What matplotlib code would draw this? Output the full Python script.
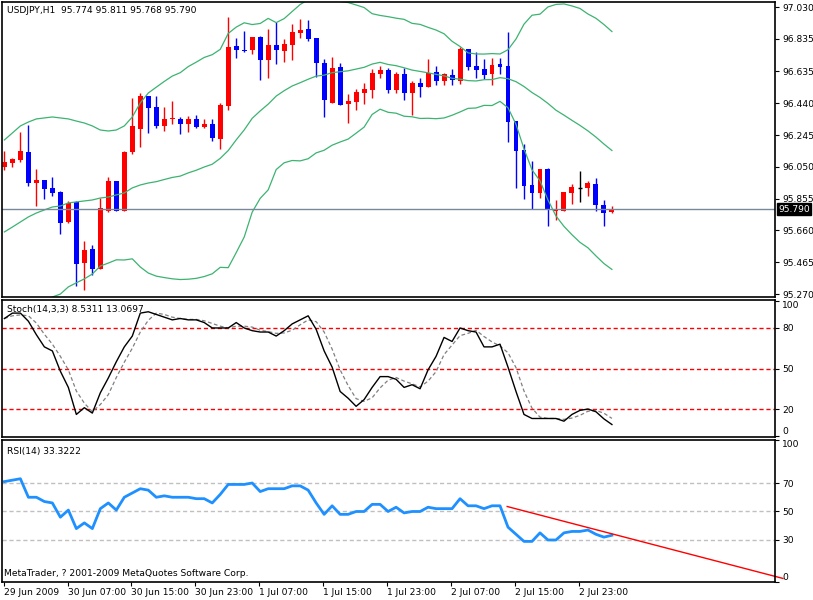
import numpy as np
import pandas as pd
import matplotlib
matplotlib.use("Agg")
import matplotlib.pyplot as plt
from matplotlib.transforms import blended_transform_factory as btf

opens = [96.049,96.074,96.092,96.141,95.951,95.970,95.921,95.896,95.712,95.835,
95.461,95.547,95.424,95.780,95.964,95.780,96.141,96.282,96.485,96.417,
96.301,96.344,96.344,96.313,96.344,96.295,96.313,96.221,96.423,96.791,
96.767,96.767,96.846,96.705,96.797,96.760,96.797,96.871,96.895,96.840,
96.687,96.442,96.662,96.435,96.448,96.503,96.521,96.619,96.644,96.521,
96.619,96.503,96.564,96.540,96.632,96.576,96.613,96.576,96.773,96.668,
96.650,96.619,96.681,96.668,96.331,96.154,95.939,95.890,96.037,95.780,
95.780,95.890,95.921,95.921,95.945,95.816,95.774]
closes = [96.080,96.098,96.147,95.951,95.970,95.914,95.890,95.706,95.829,95.455,
95.541,95.424,95.798,95.964,95.780,96.141,96.301,96.485,96.411,96.301,
96.344,96.350,96.313,96.344,96.295,96.313,96.227,96.429,96.785,96.767,
96.760,96.846,96.705,96.797,96.767,96.803,96.877,96.889,96.834,96.687,
96.460,96.656,96.429,96.454,96.509,96.527,96.626,96.644,96.521,96.619,
96.503,96.564,96.540,96.626,96.576,96.619,96.583,96.773,96.662,96.644,
96.613,96.675,96.662,96.325,96.147,95.933,95.890,96.037,95.786,95.792,
95.896,95.927,95.921,95.951,95.816,95.767,95.790]
highs = [96.147,96.104,96.264,96.307,96.037,95.970,95.988,95.902,95.841,95.841,
95.596,95.571,95.859,95.988,95.964,96.147,96.472,96.503,96.485,96.485,
96.417,96.454,96.356,96.362,96.368,96.344,96.344,96.442,96.969,96.840,
96.883,96.846,96.852,96.895,96.938,96.834,96.926,96.957,96.950,96.840,
96.711,96.724,96.687,96.497,96.527,96.564,96.650,96.668,96.656,96.632,
96.656,96.576,96.595,96.711,96.668,96.626,96.650,96.785,96.773,96.754,
96.711,96.717,96.717,96.877,96.331,96.190,96.086,96.037,96.043,95.847,
95.896,95.945,96.025,95.964,95.982,95.847,95.811]
lows = [96.031,96.049,96.080,95.933,95.810,95.853,95.872,95.639,95.706,95.320,
95.295,95.387,95.424,95.773,95.780,95.780,96.129,96.172,96.258,96.288,
96.270,96.313,96.252,96.264,96.288,96.288,96.209,96.160,96.399,96.717,
96.754,96.742,96.583,96.595,96.681,96.693,96.705,96.840,96.822,96.601,
96.356,96.442,96.429,96.319,96.399,96.435,96.472,96.595,96.503,96.503,
96.460,96.368,96.478,96.540,96.552,96.552,96.552,96.558,96.644,96.595,
96.589,96.552,96.619,96.203,95.921,95.853,95.792,95.859,95.688,95.724,
95.780,95.822,95.835,95.872,95.780,95.688,95.768]
# Bollinger values for the first 19 bars (history before the window)
bb_upper_start = [96.215,96.258,96.301,96.325,96.344,96.350,96.356,96.350,96.344,96.331,
96.319,96.301,96.276,96.270,96.276,96.301,96.356,96.442,96.503]
bb_mid_start = [95.651,95.681,95.712,95.743,95.767,95.786,95.804,95.810,95.829,95.835,
95.841,95.847,95.859,95.865,95.878,95.890,95.921,95.939,95.951]
stoch_main = [87,91,91,85,75,66,63,48,36,16,21,17,32,43,55,66,74,91,92,90,
88,86,87,86,86,84,80,80,80,84,80,78,77,77,74,78,83,86,89,79,
63,51,33,28,22,27,36,44,44,42,36,38,35,49,59,73,70,80,78,77,
66,66,68,51,33,16,13,13,13,13,11,16,19,20,18,12.7,8.53]
rsi = [71,72,73,60,60,57,56,46,51,38,42,38,52,56,51,60,63,66,65,60,
61,60,60,60,59,59,56,62,69,69,69,70,64,66,66,66,68,68,65,56,
48,54,48,48,50,50,55,55,50,53,49,50,50,53,52,52,52,59,54,54,
52,54,54,39,34,29,29,35,30,30,35,36,36,37,34,32,33.32]
price_ticks = [97.030,96.835,96.635,96.440,96.245,96.050,95.855,95.660,95.465,95.270]
date_labels = ["29 Jun 2009","30 Jun 07:00","30 Jun 15:00","30 Jun 23:00","1 Jul 07:00",
               "1 Jul 15:00","1 Jul 23:00","2 Jul 07:00","2 Jul 15:00","2 Jul 23:00"]
rsi_trend_x = [62.9, 97.4]
rsi_trend_y = [53.5, 3.0]
last_price = 95.790

W, H = 813, 600
fig = plt.figure(figsize=(W/100, H/100), dpi=100)
fs = 6.6
plt.rcParams['font.family'] = 'DejaVu Sans'
L = 2/W; Wd = 773/W
def mk(top, bot):
    return fig.add_axes([L, 1-bot/H, Wd, (bot-top)/H])
ax1 = mk(2, 297); ax2 = mk(300, 437); ax3 = mk(440, 582)
n = len(closes); x = np.arange(n)
for ax in (ax1, ax2, ax3):
    ax.set_xlim(-0.3, 96.4)
    ax.yaxis.tick_right()
    ax.tick_params(axis='y', length=3, labelsize=fs, pad=2, width=0.8)
    ax.set_xticks([])
    for s in ax.spines.values():
        s.set_linewidth(1.2)

# candles
for i in range(n):
    o, c, h, l = opens[i], closes[i], highs[i], lows[i]
    col = 'red' if c > o else ('blue' if c < o else 'black')
    ax1.vlines(i, l, h, color=col, lw=1)
    if c != o:
        ax1.bar(i, abs(c-o), bottom=min(o, c), width=0.62, color=col, linewidth=0)
    else:
        ax1.hlines(c, i-0.3, i+0.3, color=col, lw=1)
cl = pd.Series(closes)
mid = cl.rolling(20).mean().to_numpy()
sd = cl.rolling(20).std(ddof=0).to_numpy()
up = mid + 2*sd; lo = mid - 2*sd
k = len(bb_mid_start)
mid[:k] = bb_mid_start; up[:k] = bb_upper_start
lo[:k] = 2*np.array(bb_mid_start) - np.array(bb_upper_start)
for arr in (up, mid, lo):
    ax1.plot(x, arr, color='#3CB371', lw=0.9)
ax1.axhline(last_price, color='#778899', lw=1)
ax1.set_ylim(95.252, 97.061)
ax1.set_yticks(price_ticks)
ax1.set_yticklabels([f"{v:.3f}" for v in price_ticks])
ax1.text(1.004, (last_price-95.252)/(97.061-95.252), f"{last_price:.3f}", transform=ax1.transAxes,
         fontsize=fs, color='white', va='center', ha='left',
         bbox=dict(boxstyle='square,pad=0.15', fc='black', ec='black'), clip_on=False)
ax1.text(0.006, 0.985, "USDJPY,H1  95.774 95.811 95.768 95.790", transform=ax1.transAxes,
         fontsize=fs, va='top')

# stochastic
sm = pd.Series(stoch_main)
sig = sm.rolling(3, min_periods=1).mean()
for lv in (20, 50, 80):
    ax2.axhline(lv, color='red', ls=(0, (3, 2)), lw=1)
ax2.plot(x, sig, color='gray', ls=(0, (3, 2)), lw=0.9)
ax2.plot(x, sm, color='black', lw=1)
ax2.set_ylim(-0.7, 100.7)
ax2.set_yticks([0, 20, 50, 80, 100])
ax2.set_yticklabels(["0", "20", "50", "80", "100"])
ax2.yaxis.get_majorticklabels()[0].set_va('bottom')
ax2.yaxis.get_majorticklabels()[-1].set_va('top')
ax2.text(0.006, 0.96, "Stoch(14,3,3) 8.5311 13.0697", transform=ax2.transAxes, fontsize=fs, va='top')

# RSI
for lv in (30, 50, 70):
    ax3.axhline(lv, color='#C0C0C0', ls=(0, (3, 2)), lw=1)
ax3.plot(x, rsi, color='#1E90FF', lw=2)
ax3.plot(rsi_trend_x, rsi_trend_y, color='red', lw=1, clip_on=False)
ax3.set_ylim(0.5, 100.2)
ax3.set_yticks([0.5, 30, 50, 70, 100.2])
ax3.set_yticklabels(["0", "30", "50", "70", "100"])
ax3.yaxis.get_majorticklabels()[0].set_va('bottom')
ax3.yaxis.get_majorticklabels()[-1].set_va('top')
ax3.text(0.006, 0.95, "RSI(14) 33.3222", transform=ax3.transAxes, fontsize=fs, va='top')
ax3.text(0.002, 0.03, "MetaTrader, ? 2001-2009 MetaQuotes Software Corp.", transform=ax3.transAxes,
         fontsize=fs, va='bottom')
ax3.set_xticks([8*j - 0.1 for j in range(len(date_labels))])
ax3.set_xticklabels(date_labels, ha='left', fontsize=fs)
ax3.tick_params(axis='x', length=3, pad=1)

fig.savefig("out.png", dpi=100)
